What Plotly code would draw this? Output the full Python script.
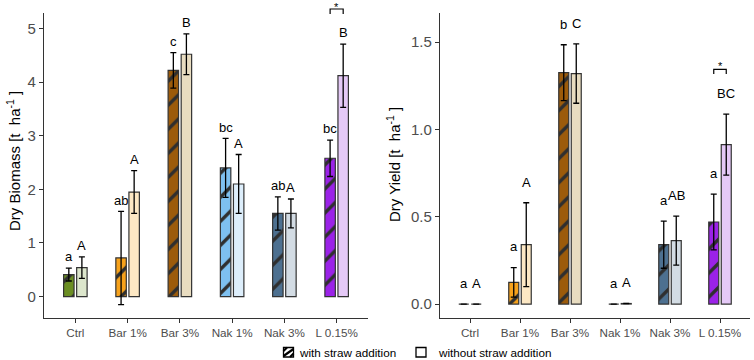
import plotly.graph_objects as go

categories = ["Ctrl", "Bar 1%", "Bar 3%", "Nak 1%", "Nak 3%", "L 0.15%"]

# Dry biomass [t ha-1]
bio_with = [0.41, 0.72, 4.22, 2.40, 1.55, 2.58]
bio_with_err = [0.12, 0.87, 0.33, 0.55, 0.31, 0.34]
bio_without = [0.54, 1.95, 4.52, 2.10, 1.55, 4.12]
bio_without_err = [0.20, 0.40, 0.38, 0.55, 0.27, 0.59]
bio_letters_with = ["a", "ab", "c", "bc", "ab", "bc"]
bio_letters_without = ["A", "A", "B", "A", "A", "B"]

# Dry yield [t ha-1]
yld_with = [0.0, 0.124, 1.325, 0.0, 0.34, 0.47]
yld_with_err = [0.0, 0.085, 0.16, 0.0, 0.135, 0.16]
yld_without = [0.0, 0.34, 1.32, 0.003, 0.363, 0.913]
yld_without_err = [0.0, 0.24, 0.17, 0.0, 0.14, 0.175]
yld_letters_with = ["a", "a", "b", "a", "a", "a"]
yld_letters_without = ["A", "A", "C", "A", "AB", "BC"]

colors_with = ["#6B8E23", "#F7A21B", "#9C5B0B", "#7EC0F0", "#4D7090", "#9B22E8"]
colors_without = ["#DCE6CC", "#FDE8C4", "#E8DCC0", "#DDEEFB", "#D3DCE4", "#E5C9F7"]

W, H = 754, 360
FONT = "Liberation Sans, Arial, sans-serif"
LINE = "#333333"
STRIPE = "#2F2F2F"

def PX(px):
    return px / W

def PY(py):
    return 1 - py / H

fig = go.Figure()

def add_bars(xa, ya, vw, ew, vo, eo):
    fig.add_trace(go.Bar(
        x=categories, y=vw, xaxis=xa, yaxis=ya, showlegend=False,
        marker=dict(color=STRIPE, line=dict(color=LINE, width=1.2),
                    pattern=dict(shape="/", fillmode="replace",
                                 bgcolor=colors_with, fgcolor=STRIPE,
                                 fgopacity=1, size=17, solidity=0.2)),
        error_y=dict(type="data", array=ew, visible=True, color="black", thickness=1.3, width=3),
        offsetgroup="w"))
    fig.add_trace(go.Bar(
        x=categories, y=vo, xaxis=xa, yaxis=ya, showlegend=False,
        marker=dict(color=colors_without, line=dict(color=LINE, width=1.2)),
        error_y=dict(type="data", array=eo, visible=True, color="black", thickness=1.3, width=3),
        offsetgroup="o"))

add_bars("x", "y", bio_with, bio_with_err, bio_without, bio_without_err)
add_bars("x2", "y2", yld_with, yld_with_err, yld_without, yld_without_err)

annotations = []
def add_letters(xref, yref, vw, ew, vo, eo, lw, lo, off):
    for i in range(len(categories)):
        annotations.append(dict(x=i - 0.125, y=vw[i] + ew[i] + off, xref=xref, yref=yref,
                                text=lw[i], showarrow=False, xanchor="center", yanchor="middle",
                                font=dict(family=FONT, size=13, color="black")))
        annotations.append(dict(x=i + 0.125, y=vo[i] + eo[i] + off, xref=xref, yref=yref,
                                text=lo[i], showarrow=False, xanchor="center", yanchor="middle",
                                font=dict(family=FONT, size=13, color="black")))

add_letters("x", "y", bio_with, bio_with_err, bio_without, bio_without_err,
            bio_letters_with, bio_letters_without, 0.21)
add_letters("x2", "y2", yld_with, yld_with_err, yld_without, yld_without_err,
            yld_letters_with, yld_letters_without, 0.118)

# significance brackets
shapes = []
for xref, yref, ytop, ybot in [("x", "paper", PY(9), PY(14)), ("x2", "y2", 1.344, 1.318)]:
    shapes.append(dict(type="path", xref=xref, yref=yref,
                       path=f"M 4.875 {ybot} L 4.875 {ytop} L 5.125 {ytop} L 5.125 {ybot}",
                       line=dict(color="black", width=1.2)))
annotations.append(dict(x=5, y=PY(7), xref="x", yref="paper", text="*", showarrow=False,
                        xanchor="center", yanchor="middle",
                        font=dict(family=FONT, size=11, color="black")))
annotations.append(dict(x=5, y=1.363, xref="x2", yref="y2", text="*", showarrow=False,
                        xanchor="center", yanchor="middle",
                        font=dict(family=FONT, size=11, color="black")))

# y titles
annotations.append(dict(x=PX(13), y=PY(161), xref="paper", yref="paper", textangle=-90,
                        xanchor="center", yanchor="middle",
                        text="Dry Biomass [t  ha<sup>-1</sup> ]", showarrow=False,
                        font=dict(family=FONT, size=15, color="black")))
annotations.append(dict(x=PX(394), y=PY(165), xref="paper", yref="paper", textangle=-90,
                        xanchor="center", yanchor="middle",
                        text="Dry Yield [t  ha<sup>-1</sup> ]", showarrow=False,
                        font=dict(family=FONT, size=15, color="black")))

# manual legend
legend_names = ["with straw addition", "without straw addition"]
box_x = [283.5, 416]
text_x = [297, 435.5]
for k in range(2):
    x0, x1 = box_x[k], box_x[k] + 10
    y0, y1 = 347.5, 357
    shapes.append(dict(type="rect", xref="paper", yref="paper",
                       x0=PX(x0), x1=PX(x1), y0=PY(y1), y1=PY(y0),
                       line=dict(color="black", width=1.3), fillcolor="white"))
    if k == 0:
        for (ax, ay, bx, by) in [(x0, y0 + 3.5, x0 + 3.5, y0),
                                 (x0, y1 - 1, x1, y0 + 1.5),
                                 (x1 - 3.5, y1, x1, y1 - 3.5)]:
            shapes.append(dict(type="line", xref="paper", yref="paper",
                               x0=PX(ax), y0=PY(ay), x1=PX(bx), y1=PY(by),
                               line=dict(color="black", width=2.2)))
    annotations.append(dict(x=PX(text_x[k]), y=PY(352.3), xref="paper", yref="paper",
                            text=legend_names[k], showarrow=False, xanchor="left", yanchor="middle",
                            font=dict(family=FONT, size=11.7, color="black")))

ydom = [PY(318), PY(13)]
common_x = dict(showgrid=False, zeroline=False, showline=True, linecolor=LINE, linewidth=1.3,
                ticks="outside", ticklen=4, tickcolor=LINE, range=[-0.6, 5.6],
                tickfont=dict(family=FONT, size=11.7, color="#4D4D4D"), fixedrange=True)
common_y = dict(showgrid=False, zeroline=False, showline=True, linecolor=LINE, linewidth=1.3,
                ticks="outside", ticklen=4, tickcolor=LINE, domain=ydom,
                tickfont=dict(family=FONT, size=15, color="#4D4D4D"))

fig.update_layout(
    width=W, height=H,
    margin=dict(l=0, r=0, t=0, b=0),
    paper_bgcolor="white", plot_bgcolor="white",
    barmode="group", bargap=0.5, bargroupgap=0.2,
    xaxis=dict(domain=[PX(44), PX(368)], anchor="y", **common_x),
    yaxis=dict(range=[-0.4, 5.29], tickvals=[0, 1, 2, 3, 4, 5], anchor="x", **common_y),
    xaxis2=dict(domain=[PX(440), PX(750)], anchor="y2", **common_x),
    yaxis2=dict(range=[-0.08, 1.667], tickvals=[0, 0.5, 1.0, 1.5], ticktext=["0.0", "0.5", "1.0", "1.5"],
                anchor="x2", **common_y),
    showlegend=False,
    annotations=annotations, shapes=shapes,
)

fig.write_html("out.html", config={"displayModeBar": False},
               post_script="document.body.style.margin='0';document.body.style.overflow='hidden';")
